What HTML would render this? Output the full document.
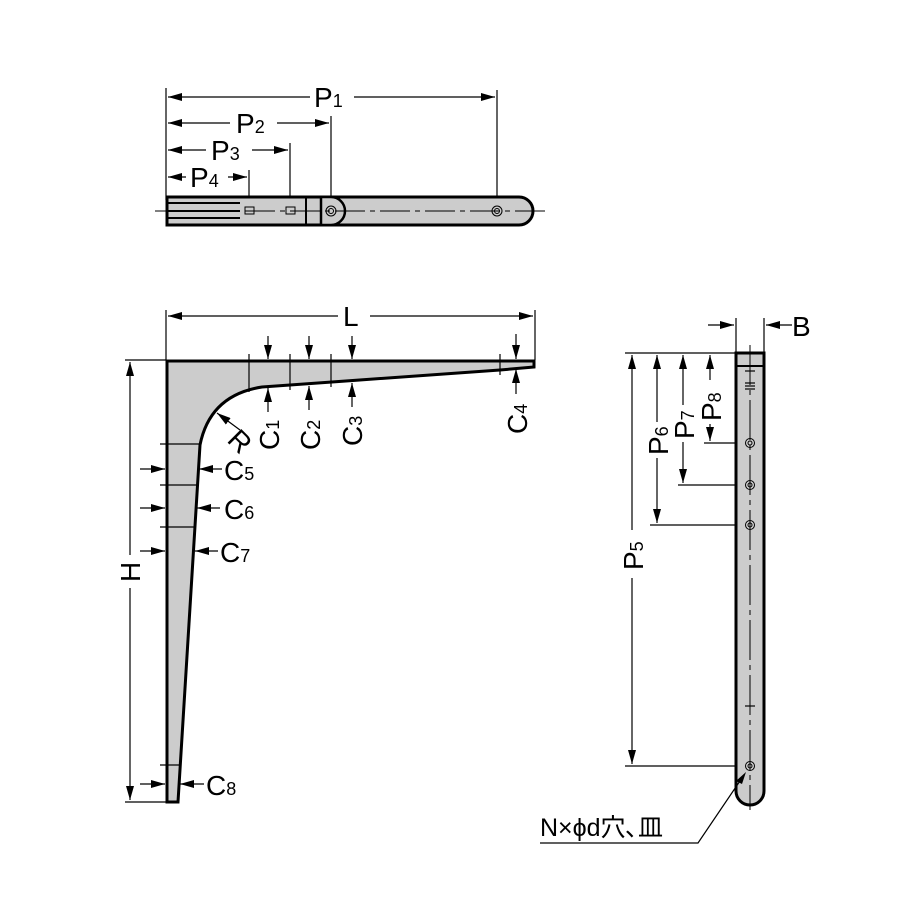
<!DOCTYPE html>
<html><head><meta charset="utf-8"><style>body{margin:0;background:#fff}svg{display:block}</style></head><body>
<svg width="914" height="914" viewBox="0 0 914 914" xmlns="http://www.w3.org/2000/svg" font-family="Liberation Sans, Noto Sans CJK JP, sans-serif">
<defs>
<marker id="a" viewBox="0 0 14 8" refX="14" refY="4" markerWidth="14" markerHeight="8" orient="auto-start-reverse" markerUnits="userSpaceOnUse"><path d="M0,0L14,4L0,8z" fill="#000"/></marker>
</defs>
<g stroke="#000" stroke-width="1.2" fill="none">
<line x1="166" y1="88" x2="166" y2="200"/>
<line x1="249" y1="170" x2="249" y2="222"/>
<line x1="290" y1="143" x2="290" y2="222"/>
<line x1="331" y1="116" x2="331" y2="222"/>
<line x1="497" y1="90" x2="497" y2="222"/>
<line x1="168" y1="97" x2="310" y2="97" marker-start="url(#a)"/><line x1="354" y1="97" x2="495" y2="97" marker-end="url(#a)"/>
<line x1="168" y1="123" x2="230" y2="123" marker-start="url(#a)"/><line x1="277" y1="123" x2="329" y2="123" marker-end="url(#a)"/>
<line x1="168" y1="150" x2="206" y2="150" marker-start="url(#a)"/><line x1="252" y1="150" x2="288" y2="150" marker-end="url(#a)"/>
<line x1="168" y1="177" x2="186" y2="177" marker-start="url(#a)"/><line x1="228" y1="177" x2="247" y2="177" marker-end="url(#a)"/>
</g>
<g font-size="28" fill="#000">
<text x="314" y="107">P<tspan font-size="18">1</tspan></text>
<text x="236" y="133">P<tspan font-size="18">2</tspan></text>
<text x="211" y="160">P<tspan font-size="18">3</tspan></text>
<text x="190" y="187">P<tspan font-size="18">4</tspan></text>
</g>
<path d="M167,197 H519 A14,14 0 0 1 519,225 H167 Z" fill="#ccc" stroke="#000" stroke-width="3"/>
<g stroke="#000" stroke-width="2"><line x1="168" y1="203" x2="240" y2="203"/><line x1="168" y1="211" x2="240" y2="211"/><line x1="168" y1="218" x2="240" y2="218"/></g>
<line x1="306" y1="197" x2="306" y2="225" stroke="#000" stroke-width="2"/>
<path d="M321,197 H331 A14,14 0 0 1 331,225 H321 Z" fill="#ccc" stroke="#000" stroke-width="2.5"/>
<line x1="155" y1="211" x2="545" y2="211" stroke="#000" stroke-width="1" stroke-dasharray="30,5,5,5"/>
<g fill="none" stroke="#000"><circle cx="331" cy="211" r="5"/><circle cx="331" cy="211" r="2.5"/><circle cx="497" cy="211" r="5"/><circle cx="497" cy="211" r="2.5"/>
<rect x="245" y="207" width="9" height="7"/><rect x="286" y="207" width="9" height="7"/></g>

<path d="M167,361 H534 V367 L500,370 L262,387 Q210,395 200,445 L178,802 H167 Z" fill="#ccc" stroke="#000" stroke-width="3"/>
<g stroke="#000" stroke-width="1.2" fill="none">
<line x1="125" y1="360" x2="166" y2="360"/>
<line x1="125" y1="802" x2="166" y2="802"/>
<line x1="166" y1="310" x2="166" y2="360"/>
<line x1="535" y1="310" x2="535" y2="360"/>
<line x1="168" y1="316" x2="338" y2="316" marker-start="url(#a)"/><line x1="370" y1="316" x2="533" y2="316" marker-end="url(#a)"/>
<line x1="130" y1="362" x2="130" y2="555" marker-start="url(#a)"/><line x1="130" y1="588" x2="130" y2="800" marker-end="url(#a)"/>
<line x1="249" y1="354" x2="249" y2="392"/><line x1="290" y1="354" x2="290" y2="390"/><line x1="331" y1="354" x2="331" y2="387"/><line x1="500" y1="354" x2="500" y2="375"/>
<line x1="268" y1="336" x2="268" y2="359" marker-end="url(#a)"/><line x1="268" y1="412" x2="268" y2="388" marker-end="url(#a)"/>
<line x1="309" y1="336" x2="309" y2="359" marker-end="url(#a)"/><line x1="309" y1="410" x2="309" y2="386" marker-end="url(#a)"/>
<line x1="352" y1="336" x2="352" y2="359" marker-end="url(#a)"/><line x1="352" y1="407" x2="352" y2="383" marker-end="url(#a)"/>
<line x1="516" y1="334" x2="516" y2="359" marker-end="url(#a)"/><line x1="516" y1="394" x2="516" y2="369" marker-end="url(#a)"/>
<line x1="240" y1="430" x2="217" y2="413" marker-end="url(#a)"/>
<line x1="160" y1="444" x2="199" y2="444"/><line x1="160" y1="485" x2="198" y2="485"/><line x1="160" y1="527" x2="196" y2="527"/>
<line x1="140" y1="469" x2="165" y2="469" marker-end="url(#a)"/><line x1="222" y1="469" x2="199" y2="469" marker-end="url(#a)"/>
<line x1="140" y1="508" x2="165" y2="508" marker-end="url(#a)"/><line x1="220" y1="508" x2="197" y2="508" marker-end="url(#a)"/>
<line x1="140" y1="551" x2="165" y2="551" marker-end="url(#a)"/><line x1="218" y1="551" x2="195" y2="551" marker-end="url(#a)"/>
<line x1="160" y1="765" x2="181" y2="765"/>
<line x1="140" y1="784" x2="165" y2="784" marker-end="url(#a)"/><line x1="204" y1="784" x2="180" y2="784" marker-end="url(#a)"/>
</g>
<g font-size="28" fill="#000">
<text x="343" y="326">L</text>
<text transform="translate(140,582) rotate(-90)">H</text>
<text x="224" y="480">C<tspan font-size="18">5</tspan></text>
<text x="224" y="519">C<tspan font-size="18">6</tspan></text>
<text x="220" y="562">C<tspan font-size="18">7</tspan></text>
<text x="206" y="795">C<tspan font-size="18">8</tspan></text>
<text transform="translate(279,450) rotate(-90)">C<tspan font-size="18">1</tspan></text>
<text transform="translate(320,450) rotate(-90)">C<tspan font-size="18">2</tspan></text>
<text transform="translate(362,446) rotate(-90)">C<tspan font-size="18">3</tspan></text>
<text transform="translate(527,434) rotate(-90)">C<tspan font-size="18">4</tspan></text>
<text transform="translate(226,441) rotate(45)">R</text>
</g>

<g stroke="#000" stroke-width="1.2" fill="none">
<line x1="736" y1="318" x2="736" y2="352"/><line x1="764" y1="318" x2="764" y2="352"/>
<line x1="708" y1="325" x2="734" y2="325" marker-end="url(#a)"/><line x1="792" y1="325" x2="766" y2="325" marker-end="url(#a)"/>
<line x1="625" y1="353" x2="736" y2="353"/>
<line x1="625" y1="766" x2="745" y2="766"/>
<line x1="650" y1="525" x2="745" y2="525"/>
<line x1="678" y1="485" x2="745" y2="485"/>
<line x1="704" y1="443" x2="745" y2="443"/>
<line x1="632" y1="530" x2="632" y2="355" marker-end="url(#a)"/><line x1="632" y1="578" x2="632" y2="764" marker-end="url(#a)"/>
<line x1="657" y1="422" x2="657" y2="355" marker-end="url(#a)"/><line x1="657" y1="458" x2="657" y2="523" marker-end="url(#a)"/>
<line x1="683" y1="405" x2="683" y2="355" marker-end="url(#a)"/><line x1="683" y1="442" x2="683" y2="483" marker-end="url(#a)"/>
<line x1="710" y1="380" x2="710" y2="355" marker-end="url(#a)"/><line x1="710" y1="424" x2="710" y2="441" marker-end="url(#a)"/>
</g>
<path d="M736,353 H764 V791 A14,14 0 0 1 736,791 Z" fill="#ccc" stroke="#000" stroke-width="3"/>
<line x1="736" y1="366" x2="764" y2="366" stroke="#000" stroke-width="2"/>
<line x1="750" y1="345" x2="750" y2="810" stroke="#000" stroke-width="1" stroke-dasharray="40,5,5,5"/>
<g stroke="#000" stroke-width="1.2"><line x1="745" y1="371" x2="755" y2="371"/><line x1="745" y1="383" x2="755" y2="383"/><line x1="745" y1="386" x2="755" y2="386"/><line x1="745" y1="389" x2="755" y2="389"/><line x1="745" y1="706" x2="755" y2="706"/></g>
<g fill="none" stroke="#000"><circle cx="750" cy="443" r="4.5"/><circle cx="750" cy="443" r="2"/><circle cx="750" cy="485" r="4.5"/><circle cx="750" cy="485" r="2"/><circle cx="750" cy="525" r="4.5"/><circle cx="750" cy="525" r="2"/><circle cx="750" cy="766" r="4.5"/><circle cx="750" cy="766" r="2"/></g>
<g font-size="28" fill="#000">
<text x="792" y="336">B</text>
<text transform="translate(643,570) rotate(-90)">P<tspan font-size="18">5</tspan></text>
<text transform="translate(668,455) rotate(-90)">P<tspan font-size="18">6</tspan></text>
<text transform="translate(694,439) rotate(-90)">P<tspan font-size="18">7</tspan></text>
<text transform="translate(721,421) rotate(-90)">P<tspan font-size="18">8</tspan></text>
<text x="540" y="836" font-size="25">N×ϕd穴､皿</text>
</g>
<polyline points="540,843 698,843 744,775" fill="none" stroke="#000" stroke-width="1.2"/>
<path d="M746,772 L736,781 L742,784 Z" fill="#000"/>
</svg>
</body></html>
